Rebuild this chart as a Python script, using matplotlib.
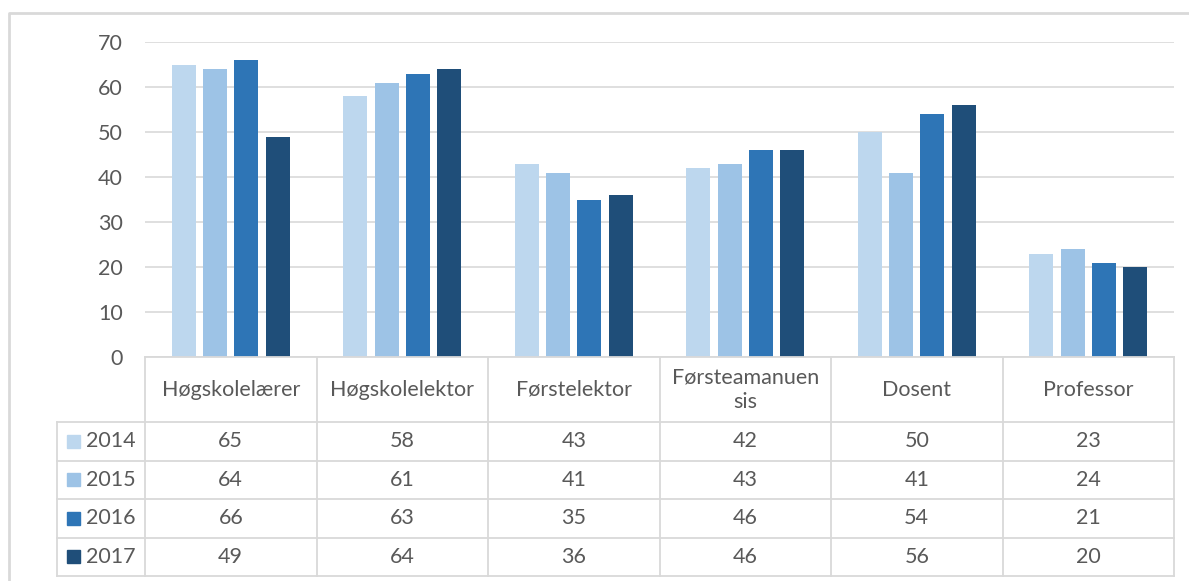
import matplotlib
matplotlib.use("Agg")
import matplotlib.pyplot as plt
from matplotlib.lines import Line2D
from matplotlib.patches import Rectangle
import numpy as np

plt.rcParams['font.family'] = ['Lato', 'DejaVu Sans']

categories = ["Høgskolelærer", "Høgskolelektor", "Førstelektor",
              "Førsteamanuen\nsis", "Dosent", "Professor"]
years = ["2014", "2015", "2016", "2017"]
v2014 = [65, 58, 43, 42, 50, 23]
v2015 = [64, 61, 41, 43, 41, 24]
v2016 = [66, 63, 35, 46, 54, 21]
v2017 = [49, 64, 36, 46, 56, 20]
series = [v2014, v2015, v2016, v2017]
colors = ["#BDD7EE", "#9DC3E6", "#2E75B6", "#1F4E79"]

W, H = 1189, 581
fig = plt.figure(figsize=(W / 100, H / 100), dpi=100)
fs = 15.5

# pixel helpers
def fx(px):
    return px / W

def fy(py):
    return 1 - py / H

ax_l, ax_r, ax_t, ax_b = 145, 1174, 42, 357
ax = fig.add_axes([fx(ax_l), fy(ax_b), fx(ax_r) - fx(ax_l), fy(ax_t) - fy(ax_b)])

n = len(categories)
x = np.arange(n)
bw = 0.14
step = 0.182
for i, (vals, c) in enumerate(zip(series, colors)):
    ax.bar(x + (i - 1.5) * step, vals, width=bw, color=c, zorder=3)

ax.set_xlim(-0.5, n - 0.5)
ax.set_ylim(0, 70)
ax.set_yticks(range(0, 71, 10))
ax.yaxis.grid(True, color="#D9D9D9", linewidth=1.2, zorder=0)
ax.set_xticks([])
for s in ["top", "right", "left", "bottom"]:
    ax.spines[s].set_visible(False)
ax.tick_params(axis="y", length=0, pad=16, labelsize=fs, labelcolor="#595959")

grey = "#595959"
lc = "#D9D9D9"

# data table below the axes
col_w = (ax_r - ax_l) / n
rows_y = [357, 422, 460.5, 499, 537.5, 576]
leg_l = 57

def hline(x0, x1, y):
    fig.add_artist(Line2D([fx(x0), fx(x1)], [fy(y), fy(y)], color=lc, lw=1.3))

def vline(xp, y0, y1):
    fig.add_artist(Line2D([fx(xp), fx(xp)], [fy(y0), fy(y1)], color=lc, lw=1.3))

hline(ax_l, ax_r, rows_y[0])
for y in rows_y[1:]:
    hline(leg_l, ax_r, y)
for j in range(n + 1):
    vline(ax_l + j * col_w, rows_y[0], rows_y[-1])
vline(leg_l, rows_y[1], rows_y[-1])

for j, cat in enumerate(categories):
    cx = ax_l + (j + 0.5) * col_w
    cy = (rows_y[0] + rows_y[1]) / 2
    fig.text(fx(cx), fy(cy), cat, ha="center", va="center", fontsize=fs,
             color=grey, linespacing=1.3)

for i, (yr, vals, c) in enumerate(zip(years, series, colors)):
    cy = (rows_y[i + 1] + rows_y[i + 2]) / 2
    fig.add_artist(Rectangle((fx(67), fy(cy + 6.5)), fx(13), 13 / H,
                             color=c, transform=fig.transFigure))
    fig.text(fx(86), fy(cy), yr, ha="left", va="center", fontsize=fs, color=grey)
    for j, v in enumerate(vals):
        cx = ax_l + (j + 0.5) * col_w
        fig.text(fx(cx), fy(cy), str(v), ha="center", va="center",
                 fontsize=fs, color=grey)

# outer chart border
fig.add_artist(Line2D([fx(9), fx(9), fx(W)], [0, fy(13), fy(13)],
                      color="#D9D9D9", lw=2))

fig.savefig("out.png", dpi=100, facecolor="white")
